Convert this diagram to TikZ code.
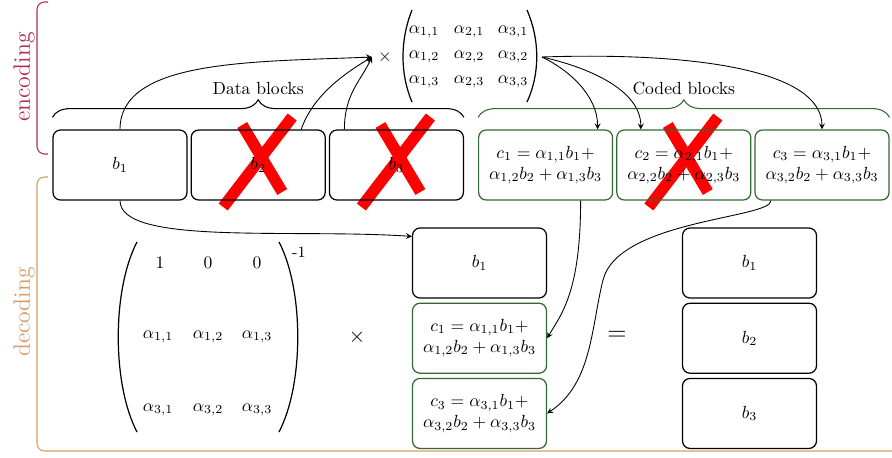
\documentclass[tikz,border=0pt]{standalone}
\usetikzlibrary{positioning,calc,decorations.pathreplacing}

\definecolor{enccol}{RGB}{180,40,90}
\definecolor{deccol}{RGB}{215,155,100}
\definecolor{codedgreen}{RGB}{50,105,50}

\pgfdeclarelayer{background}
\pgfsetlayers{background,main}

\tikzset{
    block/.style={draw, rounded corners=0.15cm, line width=0.7pt, minimum width=2.68cm, minimum height=1.4cm, align=center, inner sep=2pt},
    coded/.style={block, draw=codedgreen},
    redx/.style={red, line width=6.5pt},
    paren/.style={line width=0.7pt},
    flow/.style={->, >=stealth, line width=0.5pt},
    phase/.style={rotate=90, font=\fontsize{13.5}{16}\selectfont},
}

\begin{document}
\begin{tikzpicture}[x=0.02cm, y=-0.02cm, node distance=0.06cm]
    \useasboundingbox (0,0) rectangle (892,457);

    % phase brackets
    \draw[enccol, line width=0.6pt, rounded corners=0.15cm] (48,2) -- (37,2) -- (37,154) -- (48,154);
    \node[phase, text=enccol] (enclabel) at (24,77) {encoding};
    \draw[deccol, line width=0.6pt, rounded corners=0.15cm] (48,177) -- (37,177) -- (37,451) -- (892,451);
    \node[phase, text=deccol] (declabel) at (24,312) {decoding};

    % data and coded blocks
    \node[block] (b1) at (120,165) {$b_1$};
    \node[block, right=of b1] (b2) {$b_2$};
    \node[block, right=of b2] (b3) {$b_3$};
    \node[coded, right=0.28cm of b3] (c1) {$c_1 = \alpha_{1,1}b_1+$\\$\alpha_{1,2}b_2+\alpha_{1,3}b_3$};
    \node[coded, right=of c1] (c2) {$c_2 = \alpha_{2,1}b_1+$\\$\alpha_{2,2}b_2+\alpha_{2,3}b_3$};
    \node[coded, right=of c2] (c3) {$c_3 = \alpha_{3,1}b_1+$\\$\alpha_{3,2}b_2+\alpha_{3,3}b_3$};

    \draw[decorate, decoration={brace, amplitude=10pt}, line width=0.6pt]
        ($(b1.north west)+(0,-12)$) -- ($(b3.north east)+(0,-12)$) node[midway, above=0.32cm] (datalabel) {Data blocks};
    \draw[decorate, decoration={brace, amplitude=10pt}, line width=0.6pt, codedgreen]
        ($(c1.north west)+(0,-12)$) -- ($(c3.north east)+(0,-12)$) node[midway, above=0.32cm, text=black] (codedlabel) {Coded blocks};

    % lost blocks
    \begin{pgfonlayer}{background}
        \foreach \n in {b2,b3,c2} {
            \draw[redx] ([shift={(-16,-40)}]\n.center) -- ([shift={(24,27)}]\n.center);
            \draw[redx] ([shift={(34,-48)}]\n.center) -- ([shift={(-35,42)}]\n.center);
        }
    \end{pgfonlayer}

    % generator matrix
    \node (times) at (385,57) {$\times$};
    \foreach \i/\x in {1/424,2/469,3/513}
        \foreach \j/\y in {1/32,2/57,3/82}
            \node (g\i\j) at (\x,\y) {$\alpha_{\i,\j}$};
    \draw[paren] (412,10) .. controls (400,40) and (400,74) .. (412,102);
    \draw[paren] (527,10) .. controls (540,40) and (540,74) .. (527,102);
    \coordinate (encout) at (542,57);

    \draw[flow] (b1.north) .. controls +(0,-70) and +(-120,5) .. (times.west);
    \draw[flow] ($(b2.north)+(43,0)$) .. controls +(12,-35) and +(-25,15) .. (times.west);
    \draw[flow] ($(b3.north)+(-52,0)$) .. controls +(0,-35) and +(-12,25) .. (times.west);

    \draw[flow] (encout) .. controls +(25,12) and +(0,-35) .. ($(c1.north)+(52,0)$);
    \draw[flow] (encout) .. controls +(45,10) and +(0,-40) .. ($(c2.north)+(-43,0)$);
    \draw[flow] (encout) .. controls +(150,-5) and +(0,-60) .. (c3.north);

    % decoding
    \node[block] (db1) at (479.5,263) {$b_1$};
    \node[coded, below=0.08cm of db1] (dc1) {$c_1 = \alpha_{1,1}b_1+$\\$\alpha_{1,2}b_2+\alpha_{1,3}b_3$};
    \node[coded, below=0.08cm of dc1] (dc3) {$c_3 = \alpha_{3,1}b_1+$\\$\alpha_{3,2}b_2+\alpha_{3,3}b_3$};

    \node[block] (rb1) at (749.5,263) {$b_1$};
    \node[block, below=0.08cm of rb1] (rb2) {$b_2$};
    \node[block, below=0.08cm of rb2] (rb3) {$b_3$};

    \node[font=\large] (dtimes) at (357,337) {$\times$};
    \node[font=\Large] (equals) at (617,336) {$=$};

    % inverted matrix
    \foreach \x/\e in {160/1,208/0,257/0}
        \node (m1\x) at (\x,263) {$\e$};
    \foreach \k/\x in {1/158,2/208,3/257} {
        \node (m2\k) at (\x,337) {$\alpha_{1,\k}$};
        \node (m3\k) at (\x,410) {$\alpha_{3,\k}$};
    }
    \draw[paren] (137,242) .. controls (112,290) and (112,384) .. (137,432);
    \draw[paren] (279,242) .. controls (304,290) and (304,384) .. (279,432);
    \node[font=\small] (inv) at (299,252) {-1};

    \draw[flow] (b1.south) .. controls +(0,45) and +(-120,-8) .. ($(db1.north west)+(0,9)$);
    \draw[flow] ($(c1.south)+(35,0)$) .. controls +(0,90) and +(15,-25) .. (dc1.east);
    \coordinate (bend) at (603,280);
    \draw[flow] ($(c3.south)+(-51,0)$) .. controls +(0,18) and +(15,-60) .. (bend)
        .. controls +(-12,48) and +(45,-30) .. (dc3.east);
\end{tikzpicture}
\end{document}
